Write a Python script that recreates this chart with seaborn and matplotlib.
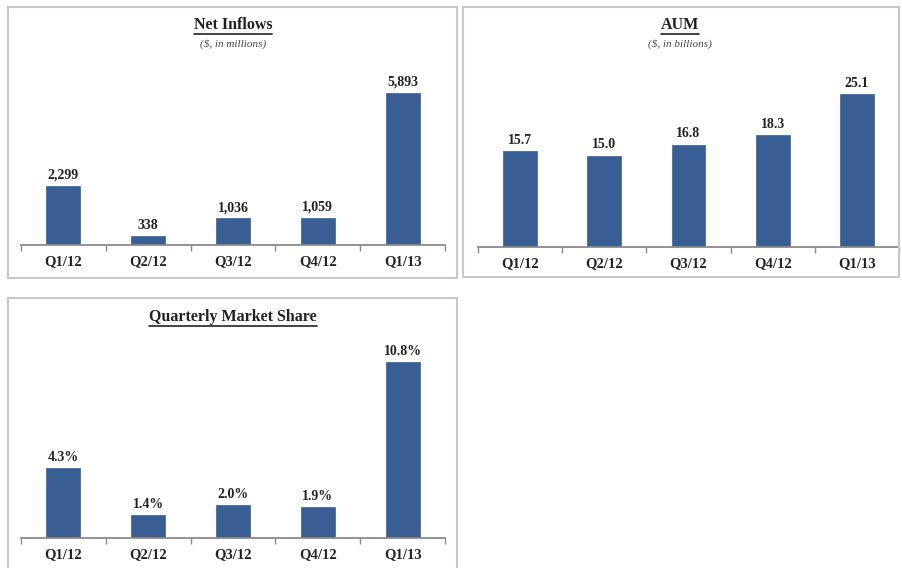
import matplotlib
matplotlib.use("Agg")
import matplotlib.pyplot as plt
import seaborn as sns
import pandas as pd
from matplotlib.patches import Rectangle
from matplotlib.lines import Line2D

sns.set_style("white")
plt.rcParams['font.family'] = ['Liberation Serif', 'DejaVu Serif']

quarters = ["Q1/12", "Q2/12", "Q3/12", "Q4/12", "Q1/13"]
net_inflows = [2299, 338, 1036, 1059, 5893]
aum = [15.7, 15.0, 16.8, 18.3, 25.1]
market_share = [4.3, 1.4, 2.0, 1.9, 10.8]

net_labels = [f"{v:,.0f}" for v in net_inflows]
aum_labels = [f"{v:.1f}" for v in aum]
share_labels = [f"{v:.1f}%" for v in market_share]

BAR = "#395E93"
W, H = 903, 568

fig = plt.figure(figsize=(W / 100, H / 100), dpi=100)
fig.patch.set_facecolor("white")


def fx(x):
    return x / W


def fy(y):
    return 1 - y / H


def add_panel(x0, x1, base, top, factor, values, labels, title, subtitle, tx, ty):
    ax = fig.add_axes([fx(x0), fy(base), fx(x1 - x0), (base - top) / H])
    df = pd.DataFrame({"q": quarters, "v": values})
    sns.barplot(data=df, x="q", y="v", color=BAR, width=0.4, ax=ax,
                saturation=1, edgecolor=BAR, linewidth=0.5)
    ax.bar_label(ax.containers[0], labels=labels, padding=3,
                 fontsize=10, fontweight="bold", color="#222222")
    ax.set_xlim(-0.5, 4.5)
    ax.set_ylim(0, max(values) * factor)
    ax.set_xlabel("")
    ax.set_ylabel("")
    ax.set_yticks([])
    for s in ["top", "left", "right"]:
        ax.spines[s].set_visible(False)
    ax.spines["bottom"].set_color("#8a8a8a")
    ax.spines["bottom"].set_linewidth(1.3)
    ax.set_xticks(range(len(quarters)))
    ax.set_xticklabels(quarters, fontsize=10.5, fontweight="bold", color="#222222")
    ax.set_xticks([i - 0.5 for i in range(len(quarters) + 1)], minor=True)
    ax.tick_params(axis="x", which="major", length=0, pad=7)
    ax.tick_params(axis="x", which="minor", length=4, width=1, color="#8a8a8a",
                   direction="out", bottom=True)
    ax.patch.set_alpha(0)
    t = fig.text(fx(tx), fy(ty), title, ha="center", va="center",
                 fontsize=11.5, fontweight="bold", color="#222222")
    if subtitle:
        fig.text(fx(tx), fy(ty + 19), subtitle, ha="center", va="center",
                 fontsize=8, fontstyle="italic", color="#444444")
    return ax, t


def add_box(x0, y0, x1, y1):
    fig.patches.append(Rectangle((fx(x0), fy(y1)), fx(x1 - x0), (y1 - y0) / H,
                                 transform=fig.transFigure, fill=False,
                                 edgecolor="#c8c8c8", linewidth=1.5, zorder=0))


add_box(8, 7, 457, 278)
add_box(463, 7, 899, 277)
add_box(8, 298, 457, 575)

_, t1 = add_panel(21, 445, 245, 60, 185 / 152, net_inflows, net_labels,
                  "Net Inflows", "($, in millions)", 233, 25)
_, t2 = add_panel(478, 899, 247, 60, 187 / 153, aum, aum_labels,
                  "AUM", "($, in billions)", 680, 25)
_, t3 = add_panel(21, 445, 538, 345, 193 / 176, market_share, share_labels,
                  "Quarterly Market Share", None, 233, 317)
titles = [t1, t2, t3]

fig.canvas.draw()
r = fig.canvas.get_renderer()
for t in titles:
    bb = t.get_window_extent(renderer=r)
    y = bb.y0 - 0.5
    fig.add_artist(Line2D([bb.x0 / W, bb.x1 / W], [y / H, y / H],
                          transform=fig.transFigure, color="#222222", linewidth=1.2))

fig.savefig("out.png", dpi=100, facecolor="white")
